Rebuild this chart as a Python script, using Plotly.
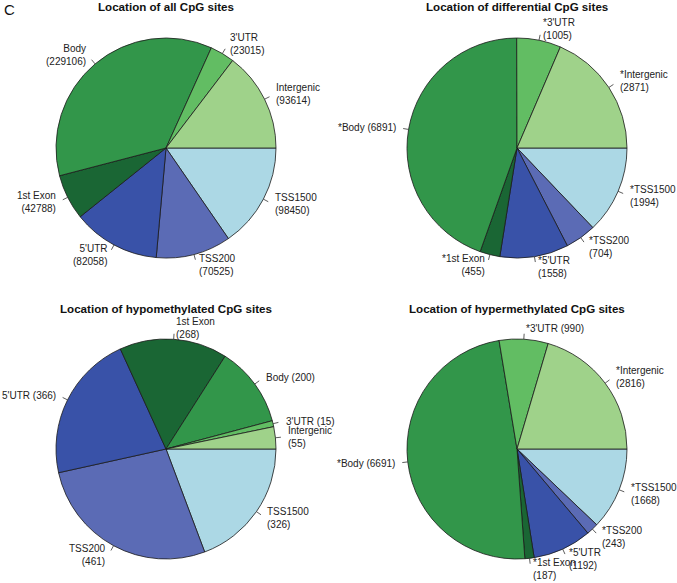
import math
import plotly.graph_objects as go

# ---- data ----
categories = ["Intergenic", "3'UTR", "Body", "1st Exon", "5'UTR", "TSS200", "TSS1500"]
colors = ["#9fd28a", "#62bd63", "#32964a", "#1a6634", "#3952a8", "#5b6bb5", "#acd8e5"]

all_vals = [93614, 23015, 229106, 42788, 82058, 70525, 98450]
diff_vals = [2871, 1005, 6891, 455, 1558, 704, 1994]
hypo_vals = [55, 15, 200, 268, 366, 461, 326]
hyper_vals = [2816, 990, 6691, 187, 1192, 243, 1668]

titles = ["Location of all CpG sites", "Location of differential CpG sites",
          "Location of hypomethylated CpG sites", "Location of hypermethylated CpG sites"]

all_labels = ["Intergenic<br>(93614)", "3'UTR<br>(23015)", "Body<br>(229106)", "1st Exon<br>(42788)",
              "5'UTR<br>(82058)", "TSS200<br>(70525)", "TSS1500<br>(98450)"]
diff_labels = ["*Intergenic<br>(2871)", "*3'UTR<br>(1005)", "*Body (6891)", "*1st Exon<br>(455)",
               "*5'UTR<br>(1558)", "*TSS200<br>(704)", "*TSS1500<br>(1994)"]
hypo_labels = ["Intergenic<br>(55)", "3'UTR (15)", "Body (200)", "1st Exon<br>(268)",
               "5'UTR (366)", "TSS200<br>(461)", "TSS1500<br>(326)"]
hyper_labels = ["*Intergenic<br>(2816)", "*3'UTR (990)", "*Body (6691)", "*1st Exon<br>(187)",
                "*5'UTR<br>(1192)", "*TSS200<br>(243)", "*TSS1500<br>(1668)"]

# ---- layout geometry (pixels) ----
W, H = 677, 583
R = 110
centers = [(166, 148), (517, 148), (166, 449), (517, 449)]
title_y = [7, 7, 308, 308]

FONT = "Liberation Sans, Arial, sans-serif"

fig = go.Figure()
annotations = []
shapes = []

datasets = [(all_vals, all_labels), (diff_vals, diff_labels),
            (hypo_vals, hypo_labels), (hyper_vals, hyper_labels)]

for i, ((vals, labs), (cx, cy)) in enumerate(zip(datasets, centers)):
    # R-style pie: counterclockwise from 3 o'clock == clockwise with reversed order
    fig.add_trace(go.Pie(
        labels=categories[::-1], values=vals[::-1], sort=False,
        direction="clockwise", rotation=90,
        marker=dict(colors=colors[::-1], line=dict(color="#1a1a1a", width=0.8)),
        textinfo="none", hoverinfo="label+value", showlegend=False,
        domain=dict(x=[(cx - R) / W, (cx + R) / W],
                    y=[1 - (cy + R) / H, 1 - (cy - R) / H]),
    ))
    total = sum(vals)
    cum = 0.0
    for v, lab in zip(vals, labs):
        mid = 2 * math.pi * (cum + v / 2) / total
        cum += v
        c, s = math.cos(mid), math.sin(mid)
        # leader line r -> 1.05 r
        shapes.append(dict(type="line", xref="paper", yref="paper",
                           x0=(cx + R * c) / W, y0=1 - (cy - R * s) / H,
                           x1=(cx + 1.05 * R * c) / W, y1=1 - (cy - 1.05 * R * s) / H,
                           line=dict(color="#333333", width=0.8)))
        left = c >= 0
        annotations.append(dict(
            x=(cx + 1.1 * R * c) / W, y=1 - (cy - 1.1 * R * s) / H,
            xref="paper", yref="paper", text=lab, showarrow=False,
            xanchor="left" if left else "right", yanchor="middle",
            align="left" if left else "right",
            font=dict(family=FONT, size=10, color="#222222")))
    annotations.append(dict(
        x=cx / W, y=1 - title_y[i] / H, xref="paper", yref="paper",
        text="<b>" + titles[i] + "</b>", showarrow=False,
        xanchor="center", yanchor="middle",
        font=dict(family=FONT, size=11.6, color="#111111")))

annotations.append(dict(x=2 / W, y=1 - 9 / H, xref="paper", yref="paper", text="C",
                        showarrow=False, xanchor="left", yanchor="middle",
                        font=dict(family=FONT, size=15, color="#111111")))

fig.update_layout(
    width=W, height=H, margin=dict(l=0, r=0, t=0, b=0),
    paper_bgcolor="white", plot_bgcolor="white",
    annotations=annotations, shapes=shapes,
)

fig.write_html("out.html", config={"displayModeBar": False},
               post_script="document.body.style.margin='0px';")
